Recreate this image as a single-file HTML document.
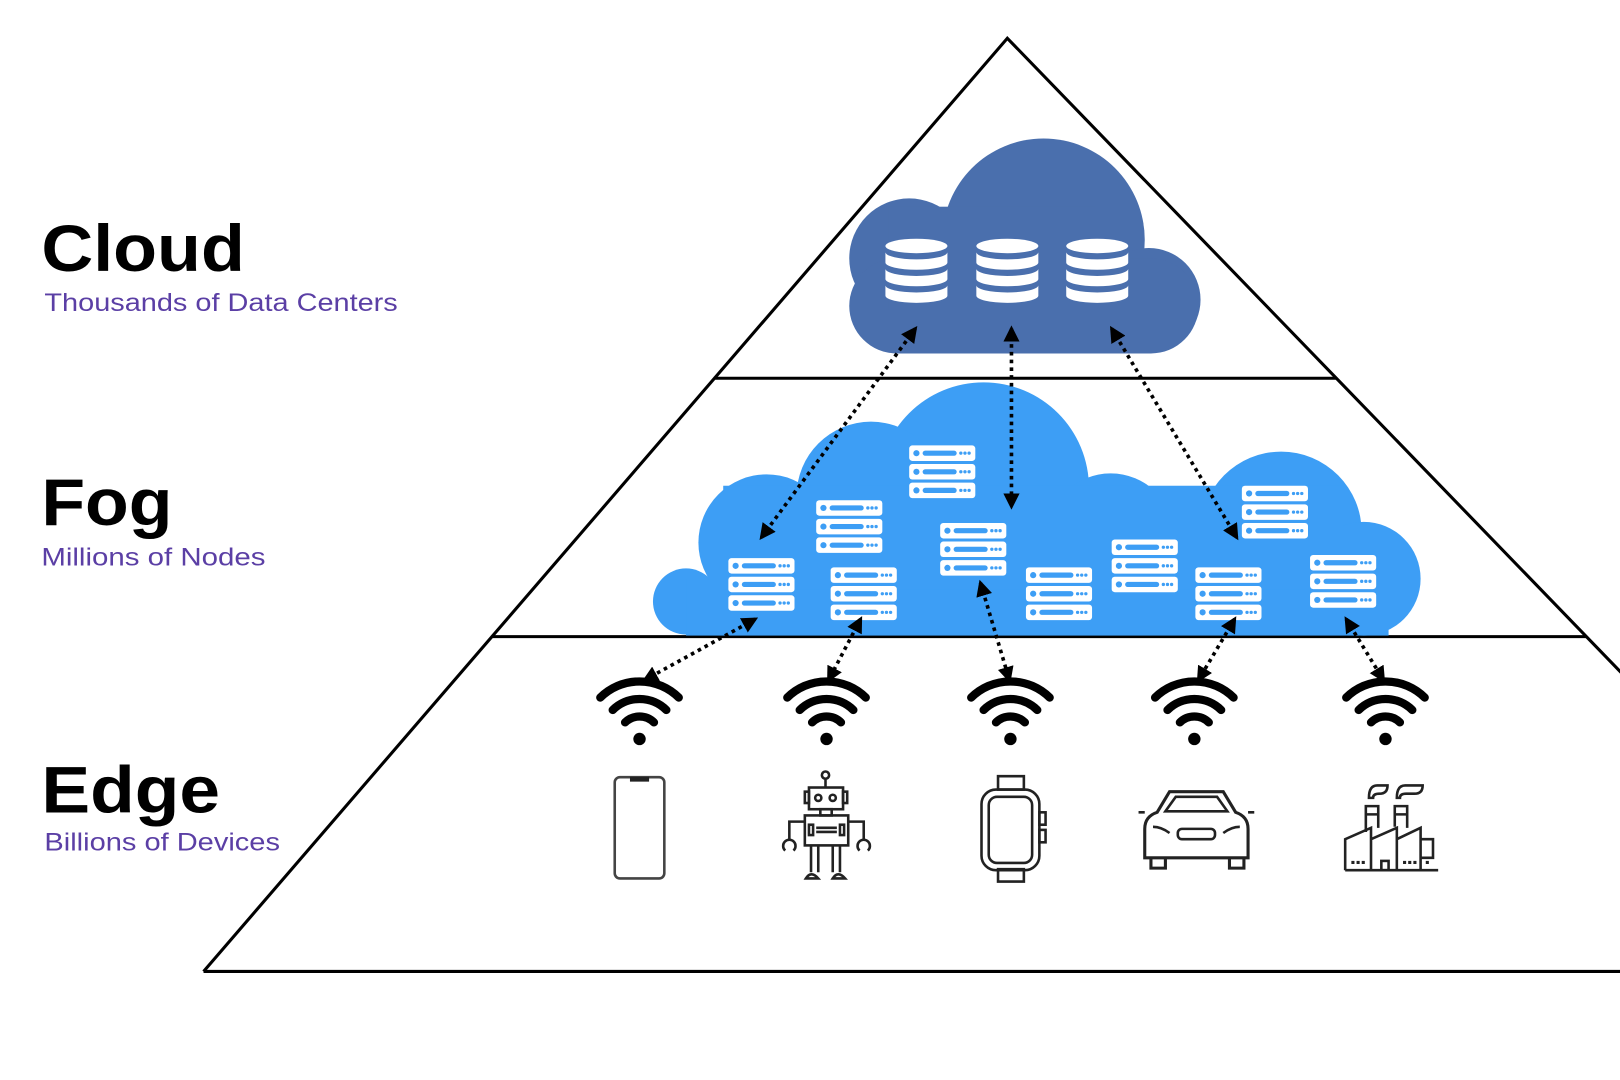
<!DOCTYPE html>
<html><head><meta charset="utf-8"><style>
html,body{margin:0;padding:0;background:#fff;width:1620px;height:1080px;overflow:hidden}
svg{display:block}
</style></head><body>
<svg width="1620" height="1080" viewBox="0 0 1568 1045" preserveAspectRatio="none" xmlns="http://www.w3.org/2000/svg">
<defs>
<marker id="ah" viewBox="0 0 10 10" refX="8" refY="5" markerWidth="4.5" markerHeight="4.5" orient="auto-start-reverse"><path d="M0,0 L10,5 L0,10 z" fill="#000"/></marker>
<g id="srv">
<rect x="0" y="0" width="64" height="15" rx="3" fill="#fff"/>
<rect x="0" y="18" width="64" height="15" rx="3" fill="#fff"/>
<rect x="0" y="36" width="64" height="15" rx="3" fill="#fff"/>
<g fill="#3d9ef5">
<circle cx="7" cy="7.5" r="3"/><rect x="13" y="5" width="33" height="5" rx="2.5"/><circle cx="50" cy="7.5" r="1.6"/><circle cx="54" cy="7.5" r="1.6"/><circle cx="58" cy="7.5" r="1.6"/>
<circle cx="7" cy="25.5" r="3"/><rect x="13" y="23" width="33" height="5" rx="2.5"/><circle cx="50" cy="25.5" r="1.6"/><circle cx="54" cy="25.5" r="1.6"/><circle cx="58" cy="25.5" r="1.6"/>
<circle cx="7" cy="43.5" r="3"/><rect x="13" y="41" width="33" height="5" rx="2.5"/><circle cx="50" cy="43.5" r="1.6"/><circle cx="54" cy="43.5" r="1.6"/><circle cx="58" cy="43.5" r="1.6"/>
</g></g>
<g id="db" fill="#fff">
<ellipse cx="0" cy="6" rx="30" ry="7"/>
<path d="M-30,12 a30,7 0 0 0 60,0 v10 a30,7 0 0 1 -60,0z"/>
<path d="M-30,28 a30,7 0 0 0 60,0 v10 a30,7 0 0 1 -60,0z"/>
<path d="M-30,44 a30,7 0 0 0 60,0 v10 a30,7 0 0 1 -60,0z"/>
</g>
<g id="wifi" fill="none" stroke="#000" stroke-width="8" stroke-linecap="round">
<path d="M-38,-22 a54,54 0 0 1 76,0"/>
<path d="M-26,-10 a37,37 0 0 1 52,0"/>
<path d="M-14,2 a20,20 0 0 1 28,0"/>
<circle cx="0" cy="18" r="6" fill="#000" stroke="none"/>
</g>
</defs>

<g stroke="#000" stroke-width="3" fill="none">
<path d="M197,940 L975,37 L1580,662"/>
<line x1="197" y1="940" x2="1568" y2="940"/>
<line x1="691" y1="366" x2="1293" y2="366"/>
<line x1="476" y1="616" x2="1535" y2="616"/>
</g>

<g fill="#4a6fad">
<circle cx="1010" cy="232" r="98"/>
<circle cx="880" cy="250" r="58"/>
<circle cx="1112" cy="290" r="50"/>
<rect x="822" y="250" width="338" height="92" rx="46"/>
<rect x="860" y="200" width="200" height="100"/>
</g>
<use href="#db" x="887" y="232"/>
<use href="#db" x="975" y="232"/>
<use href="#db" x="1062" y="232"/>

<g fill="#3d9ef5">
<circle cx="952" cy="472" r="102"/>
<circle cx="843" cy="480" r="72"/>
<circle cx="742" cy="525" r="66"/>
<circle cx="664" cy="582" r="32"/>
<circle cx="1075" cy="520" r="62"/>
<circle cx="1240" cy="515" r="78"/>
<circle cx="1320" cy="560" r="55"/>
<rect x="664" y="560" width="680" height="55"/>
<rect x="700" y="470" width="600" height="100"/>
</g>
<use href="#srv" x="705" y="540"/>
<use href="#srv" x="790" y="484"/>
<use href="#srv" x="880" y="431"/>
<use href="#srv" x="804" y="549"/>
<use href="#srv" x="910" y="506"/>
<use href="#srv" x="993" y="549"/>
<use href="#srv" x="1076" y="522"/>
<use href="#srv" x="1157" y="549"/>
<use href="#srv" x="1202" y="470"/>
<use href="#srv" x="1268" y="537"/>

<g stroke="#000" stroke-width="3.5" stroke-dasharray="3.5 4" fill="none" marker-start="url(#ah)" marker-end="url(#ah)">
<line x1="886" y1="318" x2="737" y2="520"/>
<line x1="979" y1="318" x2="979" y2="490"/>
<line x1="1076" y1="318" x2="1197" y2="520"/>
<line x1="731" y1="599" x2="624" y2="658"/>
<line x1="833" y1="599" x2="802" y2="658"/>
<line x1="949" y1="564" x2="977" y2="658"/>
<line x1="1195" y1="599" x2="1160" y2="658"/>
<line x1="1303" y1="599" x2="1339" y2="658"/>
</g>

<use href="#wifi" x="619" y="697"/>
<use href="#wifi" x="800" y="697"/>
<use href="#wifi" x="978" y="697"/>
<use href="#wifi" x="1156" y="697"/>
<use href="#wifi" x="1341" y="697"/>

<g fill="none" stroke="#222" stroke-width="2.5">
<rect x="595" y="752" width="48" height="98" rx="5" stroke="#444"/>
<path d="M611,753 h16 v2 h-16z" fill="#222"/>
<circle cx="799" cy="750" r="3.5"/><line x1="799" y1="754" x2="799" y2="762"/>
<rect x="783" y="762" width="33" height="21"/><rect x="779" y="766" width="4" height="11"/><rect x="816" y="766" width="4" height="11"/>
<circle cx="792" cy="772" r="3"/><circle cx="806" cy="772" r="3"/>
<rect x="794" y="783" width="11" height="6"/>
<rect x="779" y="789" width="42" height="29"/>
<rect x="783" y="798" width="4" height="10"/><rect x="813" y="798" width="4" height="10"/><line x1="790" y1="801" x2="810" y2="801"/><line x1="790" y1="805" x2="810" y2="805"/>
<path d="M779,795 h-15 v18 M821,795 h15 v18"/>
<path d="M760,823 a6,6 0 1 1 8,0 M832,823 a6,6 0 1 1 8,0"/>
<path d="M785,818 v26 M792,818 v26 M806,818 v26 M813,818 v26"/>
<path d="M780,850 q5,-8 12,0z M806,850 q5,-8 12,0z"/>
<path d="M966,751 h25 v13 h-25z M966,841 h25 v12 h-25z"/>
<rect x="950" y="764" width="56" height="78" rx="14"/>
<rect x="957" y="771" width="42" height="64" rx="8"/>
<rect x="1006" y="786" width="6" height="12"/><rect x="1006" y="803" width="6" height="12"/>
<path d="M1108,830 v-28 q0,-12 12,-16 l12,-20 h52 l12,20 q12,4 12,16 v28z" stroke-width="3"/>
<path d="M1128,785 l10,-14 h40 l10,14z"/>
<path d="M1116,800 q8,0 16,6 M1200,800 q-8,0 -16,6"/>
<rect x="1140" y="802" width="36" height="10" rx="4"/>
<path d="M1114,830 v10 h14 v-10 M1190,830 v10 h14 v-10" stroke-width="3"/>
<path d="M1108,786 h-6 M1214,786 h-6"/>
<path d="M1302,842 h90 M1302,842 v-30 l25,-11 v41 M1327,842 v-30 l25,-11 v41 M1352,842 v-30 l23,-11 v41 M1375,842 v-30 h12 v18 h-12"/>
<path d="M1322,805 v-25 h12 v21 M1350,800 v-20 h12 v21"/>
<path d="M1322,788 h12 M1350,788 h12"/>
<path d="M1325,772 q0,-12 8,-12 h10 q0,8 -8,8 q-6,0 -6,4z M1352,772 q0,-12 8,-12 h17 q0,8 -8,8 h-8 q-6,0 -6,4z"/>
<rect x="1337" y="833" width="7" height="9"/>
</g>
<g fill="#222"><rect x="1308" y="833" width="3" height="3"/><rect x="1313" y="833" width="3" height="3"/><rect x="1318" y="833" width="3" height="3"/><rect x="1358" y="833" width="3" height="3"/><rect x="1363" y="833" width="3" height="3"/><rect x="1368" y="833" width="3" height="3"/><rect x="1380" y="833" width="3" height="3"/></g>

<g font-family="Liberation Sans, sans-serif">
<text x="40" y="262" font-size="64" font-weight="bold" fill="#000" textLength="197" lengthAdjust="spacingAndGlyphs">Cloud</text>
<text x="43" y="301" font-size="24" fill="#5b3fa5" textLength="342" lengthAdjust="spacingAndGlyphs">Thousands of Data Centers</text>
<text x="40" y="508" font-size="64" font-weight="bold" fill="#000" textLength="127" lengthAdjust="spacingAndGlyphs">Fog</text>
<text x="40" y="547" font-size="24" fill="#5b3fa5" textLength="217" lengthAdjust="spacingAndGlyphs">Millions of Nodes</text>
<text x="40" y="786" font-size="64" font-weight="bold" fill="#000" textLength="173" lengthAdjust="spacingAndGlyphs">Edge</text>
<text x="43" y="823" font-size="24" fill="#5b3fa5" textLength="228" lengthAdjust="spacingAndGlyphs">Billions of Devices</text>
</g>
</svg>
</body></html>
